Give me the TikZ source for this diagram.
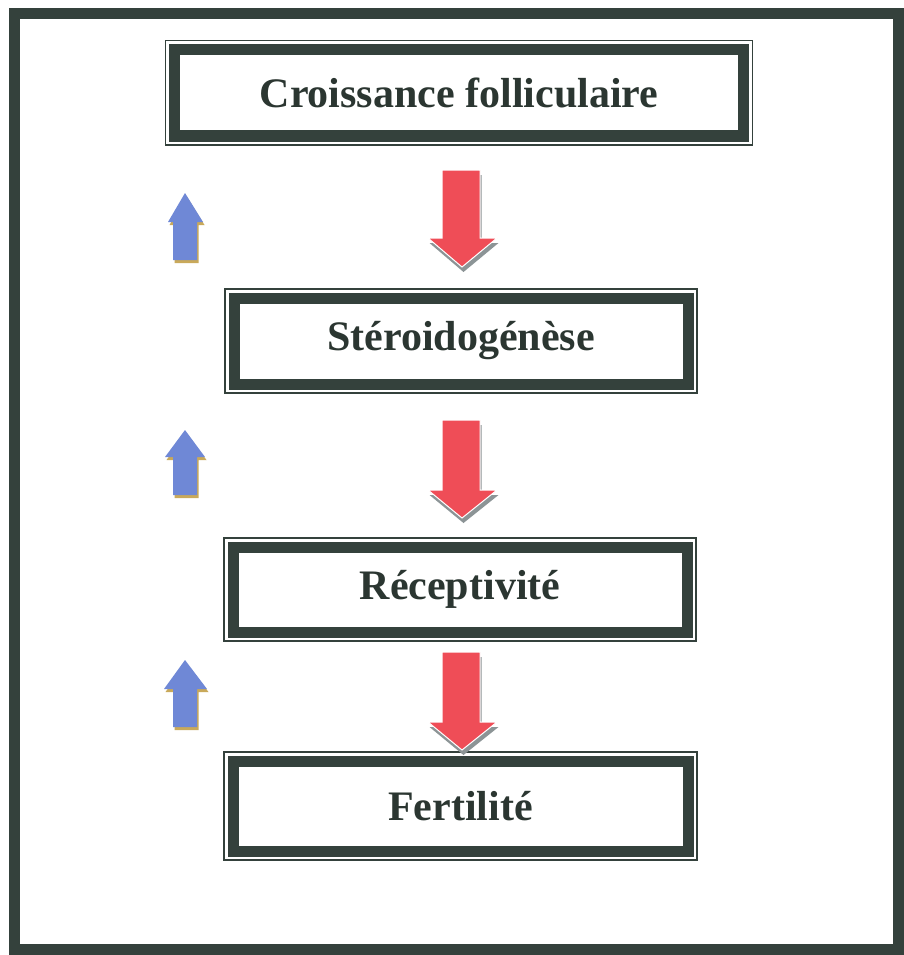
\documentclass[tikz,border=0pt]{standalone}
\usepackage{fontspec}
\setmainfont{Liberation Serif}
\definecolor{frame}{HTML}{34413C}
\definecolor{ink}{HTML}{2B3631}
\definecolor{redarrow}{HTML}{EF4D57}
\definecolor{redshadow}{HTML}{8C9496}
\definecolor{bluearrow}{HTML}{6F88D6}
\definecolor{blueshadow}{HTML}{C9A95A}
\tikzset{
  box/.style={draw=frame, line width=11pt, fill=white, rectangle, inner sep=0pt, outer sep=0pt,
    text=ink, font=\fontsize{42}{48}\selectfont\bfseries},
  boxouter/.style={draw=frame, line width=1.8pt},
  redfill/.style={fill=redarrow, draw=white, line width=1pt},
  redshad/.style={fill=redshadow},
  bluefill/.style={fill=bluearrow},
  blueshad/.style={fill=blueshadow},
}
\begin{document}
\begin{tikzpicture}[x=1pt,y=-1pt]
\useasboundingbox (0,0) rectangle (904,955);
\fill[white] (0,0) rectangle (904,955);
% outer frame
\draw[draw=frame, line width=11.5pt] (14.5,13.5) rectangle (898.5,950);
% boxes
\node[box, minimum width=569pt, minimum height=86.5pt] (b1) at (459,92.75) {Croissance folliculaire};
\node[box, minimum width=454pt, minimum height=86pt] (b2) at (461,341) {Stéroidogénèse};
\node[box, minimum width=454pt, minimum height=85pt] (b3) at (460,589.5) {Réceptivité};
\node[box, minimum width=455pt, minimum height=90pt] (b4) at (460.5,806) {Fertilité};
\foreach \b in {b1,b2,b3,b4}{
  \draw[boxouter] ([shift={(-9,-9)}]\b.north west) rectangle ([shift={(9,9)}]\b.south east);
}
% red arrows
\foreach \t/\bb/\h in {170/238/267, 420/490/518, 652/722/750}{
  \fill[redshad, shift={(1.5,5)}] (442,\t) -- (480,\t) -- (480,\bb) -- (497,\bb) -- (462,\h) -- (428,\bb) -- (442,\bb) -- cycle;
  \filldraw[redfill] (442,\t) -- (480,\t) -- (480,\bb) -- (497,\bb) -- (462,\h) -- (428,\bb) -- (442,\bb) -- cycle;
}
% blue arrows
\foreach \tip/\base/\bot/\hl/\hr in {193/222/260/168/203, 430/457/495/165/205, 660/689/727/164/207}{
  \fill[blueshad, shift={(1.5,3)}] (185,\tip) -- (\hr,\base) -- (197,\base) -- (197,\bot) -- (173,\bot) -- (173,\base) -- (\hl,\base) -- cycle;
  \fill[bluefill] (185,\tip) -- (\hr,\base) -- (197,\base) -- (197,\bot) -- (173,\bot) -- (173,\base) -- (\hl,\base) -- cycle;
}
\end{tikzpicture}
\end{document}
